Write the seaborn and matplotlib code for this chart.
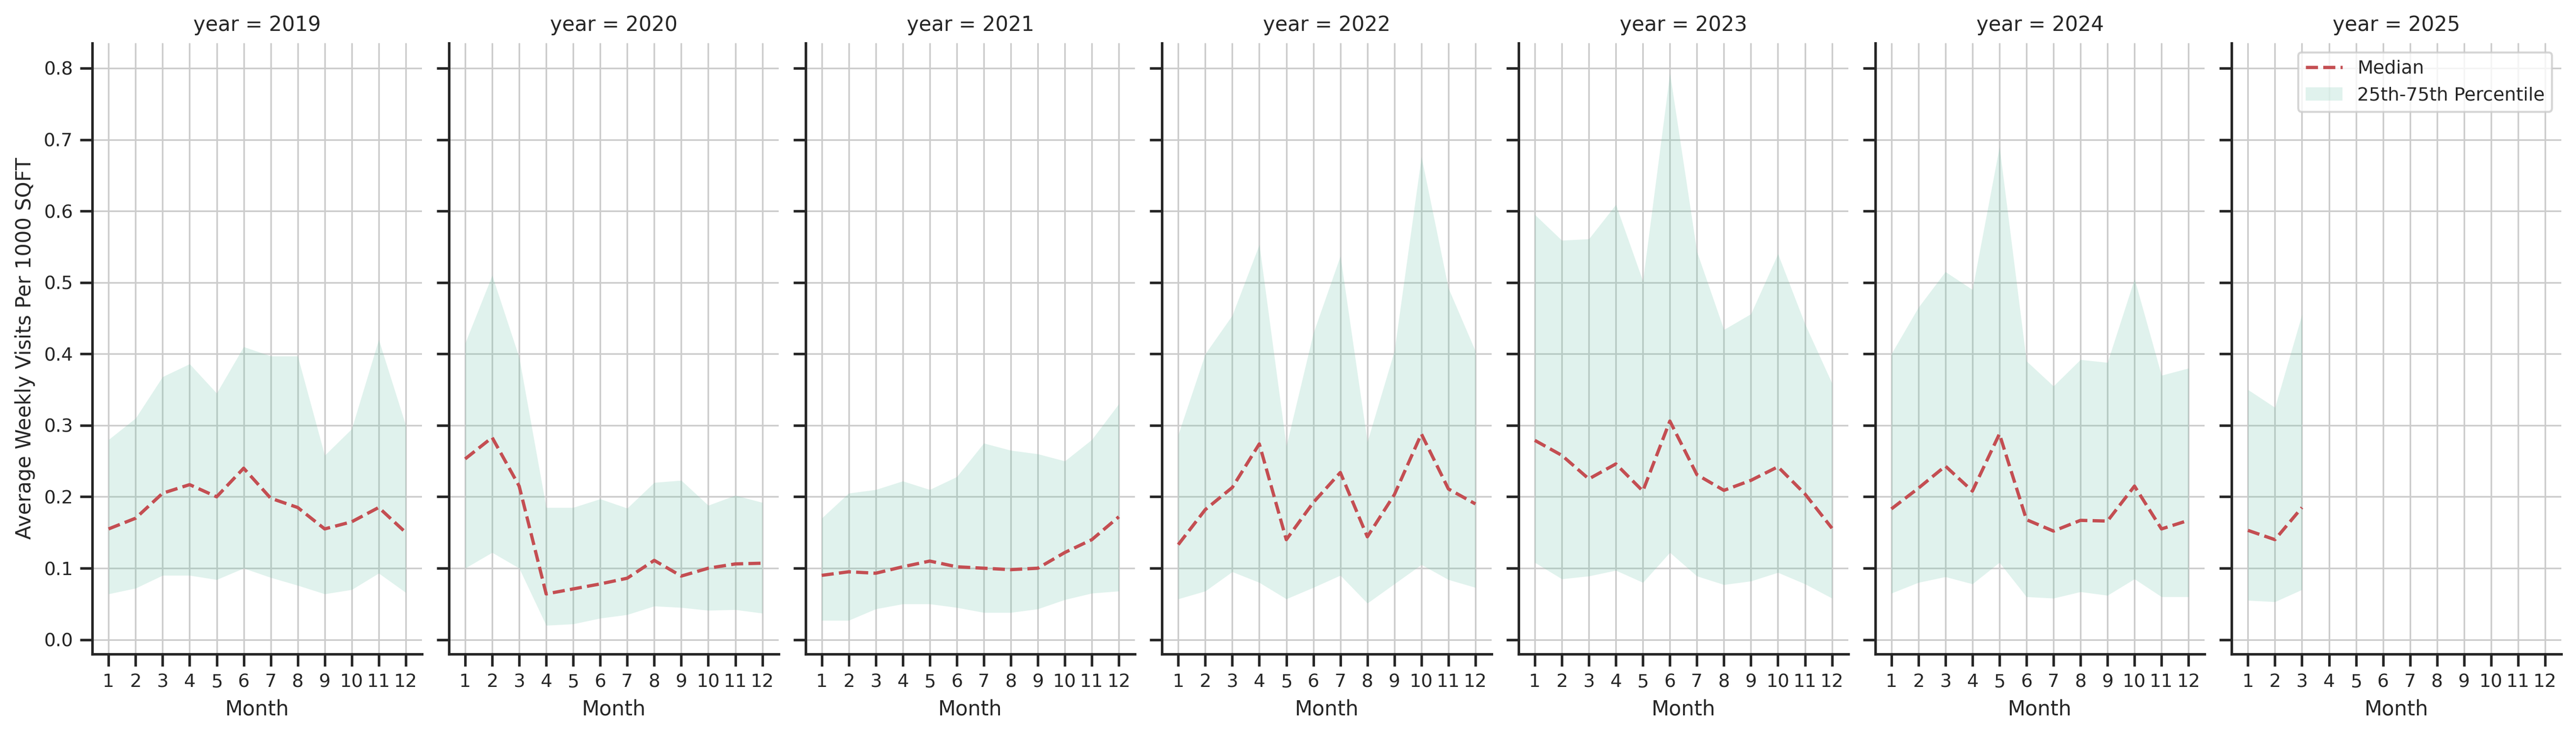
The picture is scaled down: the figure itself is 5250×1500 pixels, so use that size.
import numpy as np
import pandas as pd
import matplotlib
matplotlib.use("Agg")
import matplotlib.pyplot as plt
import seaborn as sns

years = [2019, 2020, 2021, 2022, 2023, 2024, 2025]
median = {
    2019: [0.155,0.17,0.205,0.217,0.2,0.24,0.198,0.185,0.155,0.165,0.185,0.15],
    2020: [0.253,0.283,0.215,0.064,0.071,0.078,0.086,0.111,0.089,0.1,0.106,0.107],
    2021: [0.09,0.095,0.093,0.102,0.11,0.102,0.1,0.098,0.1,0.122,0.14,0.172],
    2022: [0.133,0.182,0.213,0.274,0.14,0.192,0.234,0.144,0.203,0.288,0.211,0.19],
    2023: [0.279,0.258,0.225,0.246,0.208,0.306,0.231,0.209,0.223,0.242,0.204,0.156],
    2024: [0.183,0.212,0.243,0.208,0.288,0.168,0.152,0.167,0.166,0.215,0.155,0.167],
    2025: [0.153,0.14,0.185],
}
upper = {
    2019: [0.28,0.31,0.368,0.386,0.345,0.41,0.397,0.397,0.258,0.295,0.42,0.3],
    2020: [0.415,0.51,0.395,0.185,0.185,0.197,0.184,0.22,0.223,0.188,0.202,0.192],
    2021: [0.17,0.205,0.21,0.222,0.21,0.228,0.275,0.265,0.26,0.25,0.28,0.33],
    2022: [0.287,0.4,0.454,0.553,0.271,0.429,0.537,0.277,0.404,0.676,0.492,0.404],
    2023: [0.595,0.559,0.561,0.609,0.502,0.793,0.543,0.434,0.456,0.54,0.442,0.359],
    2024: [0.4,0.465,0.515,0.49,0.69,0.39,0.355,0.392,0.388,0.505,0.37,0.38],
    2025: [0.35,0.325,0.455],
}
lower = {
    2019: [0.064,0.072,0.09,0.09,0.084,0.1,0.087,0.076,0.064,0.07,0.093,0.066],
    2020: [0.1,0.122,0.1,0.02,0.022,0.03,0.035,0.047,0.045,0.041,0.042,0.037],
    2021: [0.027,0.027,0.043,0.05,0.05,0.045,0.038,0.038,0.043,0.056,0.065,0.068],
    2022: [0.057,0.068,0.095,0.08,0.057,0.073,0.09,0.051,0.078,0.105,0.084,0.073],
    2023: [0.108,0.085,0.089,0.097,0.08,0.122,0.089,0.077,0.082,0.094,0.078,0.058],
    2024: [0.065,0.08,0.088,0.078,0.108,0.06,0.058,0.067,0.062,0.085,0.06,0.06],
    2025: [0.055,0.053,0.07],
}

rows = []
for y in years:
    for i, m in enumerate(median[y]):
        rows.append(dict(year=y, Month=i + 1, median=m, q25=lower[y][i], q75=upper[y][i]))
df = pd.DataFrame(rows)

sns.set_theme(style="ticks")
g = sns.FacetGrid(df, col="year", col_order=years, height=5, aspect=0.5, sharey=True, sharex=True)

def draw(data, **kw):
    ax = plt.gca()
    sns.lineplot(data=data, x="Month", y="median", color="#c44e52", linestyle="--",
                 linewidth=1.6, ax=ax, label="Median")
    ax.fill_between(data["Month"], data["q25"], data["q75"], color="#66c2a5", alpha=0.2,
                    linewidth=0, label="25th-75th Percentile")
    if ax.get_legend():
        ax.get_legend().remove()

g.map_dataframe(draw)
for ax in g.axes.flat:
    ax.set_xticks(range(1, 13))
    ax.set_xlim(0.4, 12.6)
    ax.set_ylim(-0.02, 0.835)
    ax.set_yticks(np.arange(0, 0.81, 0.1))
    ax.grid(True, color="#cccccc", linewidth=0.8)
    ax.tick_params(labelsize=9)
g.set_axis_labels("Month", "Average Weekly Visits Per 1000 SQFT")
g.set_titles("year = {col_name}")
for ax in g.axes.flat:
    ax.title.set_fontsize(10)
    ax.xaxis.label.set_fontsize(10)
    ax.yaxis.label.set_fontsize(10)
g.axes.flat[-1].legend(loc="upper right", fontsize=9)
g.figure.set_size_inches(17.5, 5)
g.figure.tight_layout(pad=0.6)
g.figure.savefig("out.png", dpi=300)
